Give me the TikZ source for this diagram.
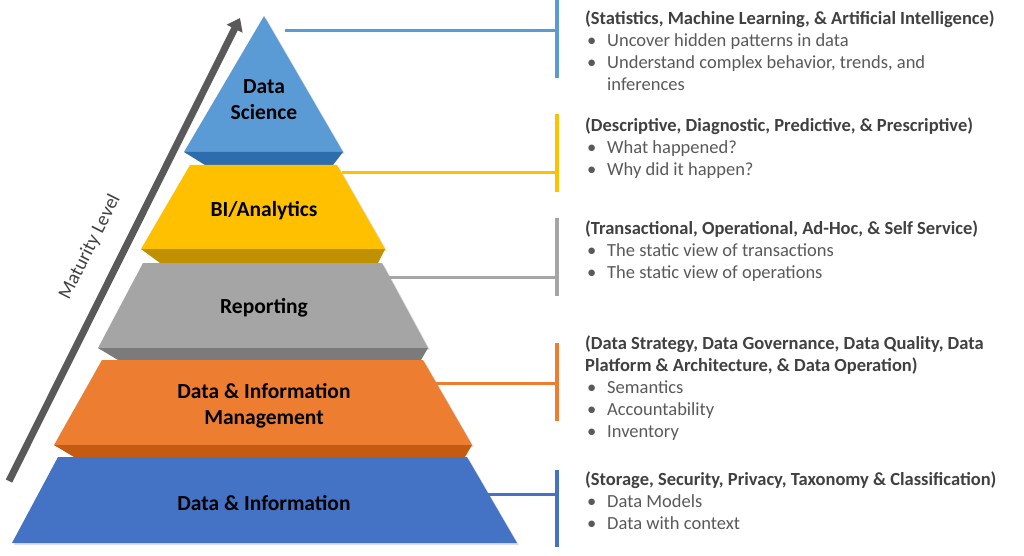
\documentclass[tikz,border=0pt]{standalone}
\usepackage{fontspec}
\setmainfont{Carlito}
\usepackage{tikz}
\usetikzlibrary{arrows.meta, calc, shadows}
\definecolor{dsblue}{HTML}{5B9BD5}
\definecolor{dsdark}{HTML}{2E6DAD}
\definecolor{biyellow}{HTML}{FFC000}
\definecolor{bidark}{HTML}{BF9000}
\definecolor{rpgray}{HTML}{A5A5A5}
\definecolor{rpdark}{HTML}{7B7B7B}
\definecolor{dimorange}{HTML}{ED7D31}
\definecolor{dimdark}{HTML}{C55A11}
\definecolor{diblue}{HTML}{4472C4}
\definecolor{arrowgray}{HTML}{595959}
\definecolor{headgray}{HTML}{404040}
\definecolor{textgray}{HTML}{595959}
\newcommand{\bul}{\hspace*{2pt}\makebox[20pt][l]{\textbullet}}
\newcommand{\infohead}[1]{\textbf{\color{headgray}#1}}
\tikzset{
  layer/.style={
    draw=none,
    drop shadow={opacity=0.25, shadow xshift=2pt, shadow yshift=-2pt}
  },
  layer label/.style={
    font=\fontsize{21.5pt}{26pt}\selectfont\bfseries,
    align=center,
    text=black
  },
  link/.style={
    line width=3pt
  },
  bar/.style={
    line width=4.5pt
  },
  info/.style={
    anchor=north west,
    inner sep=0pt,
    align=left,
    text=textgray,
    font=\fontsize{18.5pt}{22pt}\selectfont
  }
}
\begin{document}
\begin{tikzpicture}[x=1pt, y=-1pt]
  \useasboundingbox (0,0) rectangle (1024,556);

  % maturity arrow
  \draw[arrowgray, line width=7pt, -{Triangle[length=12pt, width=17pt]}] (9,481) -- (240,18);
  \node[rotate=63.3, font=\fontsize{19.5pt}{22pt}\selectfont, text=headgray] (maturity) at (90,247) {Maturity Level};

  % pyramid: layers and their dark bottom faces
  \fill[dsblue, layer] (264,16) -- (343,152) -- (184,152) -- cycle;
  \fill[dsdark] (184,152) -- (343,152) -- (333,165) -- (205,165) -- cycle;
  \fill[biyellow, layer] (190,165) -- (337,165) -- (385,249) -- (141,249) -- cycle;
  \fill[bidark] (141,249) -- (385,249) -- (378,263) -- (160,263) -- cycle;
  \fill[rpgray, layer] (143,263) -- (382,263) -- (428,348) -- (98,348) -- cycle;
  \fill[rpdark] (98,348) -- (428,348) -- (421,360) -- (118,360) -- cycle;
  \fill[dimorange, layer] (102,360) -- (423,360) -- (472,445) -- (54,445) -- cycle;
  \fill[dimdark] (54,445) -- (472,445) -- (465,457) -- (74,457) -- cycle;
  \fill[diblue, layer] (58,457) -- (467,457) -- (517,543) -- (12,543) -- cycle;

  % layer names
  \node[layer label] (ds) at (264,100) {Data\\Science};
  \node[layer label] (bi) at (264,211) {BI/Analytics};
  \node[layer label] (rp) at (264,308) {Reporting};
  \node[layer label] (dim) at (264,406) {Data \& Information\\Management};
  \node[layer label] (di) at (264,503) {Data \& Information};

  % connectors
  \coordinate (ds-out) at (285,31);
  \coordinate (bi-out) at (342,173);
  \coordinate (rp-out) at (389,277);
  \coordinate (dim-out) at (436,383);
  \coordinate (di-out) at (488,494);
  \coordinate (ds-top) at (557,0);     \coordinate (ds-bot) at (557,78);
  \coordinate (bi-top) at (557,114);   \coordinate (bi-bot) at (557,192);
  \coordinate (rp-top) at (557,218);   \coordinate (rp-bot) at (557,296);
  \coordinate (dim-top) at (557,343);  \coordinate (dim-bot) at (557,421);
  \coordinate (di-top) at (557,470);   \coordinate (di-bot) at (557,547);

  \draw[bar, dsblue] (ds-top) -- (ds-bot);
  \draw[link, dsblue] (ds-out) -- (ds-out -| ds-top);
  \draw[bar, biyellow] (bi-top) -- (bi-bot);
  \draw[link, biyellow] (bi-out) -- (bi-out -| bi-top);
  \draw[bar, rpgray] (rp-top) -- (rp-bot);
  \draw[link, rpgray] (rp-out) -- (rp-out -| rp-top);
  \draw[bar, dimorange] (dim-top) -- (dim-bot);
  \draw[link, dimorange] (dim-out) -- (dim-out -| dim-top);
  \draw[bar, diblue] (di-top) -- (di-bot);
  \draw[link, diblue] (di-out) -- (di-out -| di-top);

  % descriptions
  \node[info] (ds-info) at (585,10.5) {\infohead{(Statistics, Machine Learning, \& Artificial Intelligence)}\\
    \bul Uncover hidden patterns in data\\
    \bul Understand complex behavior, trends, and\\
    \hspace*{22pt}inferences};
  \node[info] (bi-info) at (585,117.5) {\infohead{(Descriptive, Diagnostic, Predictive, \& Prescriptive)}\\
    \bul What happened?\\
    \bul Why did it happen?};
  \node[info] (rp-info) at (585,220.5) {\infohead{(Transactional, Operational, Ad-Hoc, \& Self Service)}\\
    \bul The static view of transactions\\
    \bul The static view of operations};
  \node[info] (dim-info) at (585,335.5) {\infohead{(Data Strategy, Data Governance, Data Quality, Data}\\
    \infohead{Platform \& Architecture, \& Data Operation)}\\
    \bul Semantics\\
    \bul Accountability\\
    \bul Inventory};
  \node[info] (di-info) at (585,471.5) {\infohead{(Storage, Security, Privacy, Taxonomy \& Classification)}\\
    \bul Data Models\\
    \bul Data with context};
\end{tikzpicture}
\end{document}
